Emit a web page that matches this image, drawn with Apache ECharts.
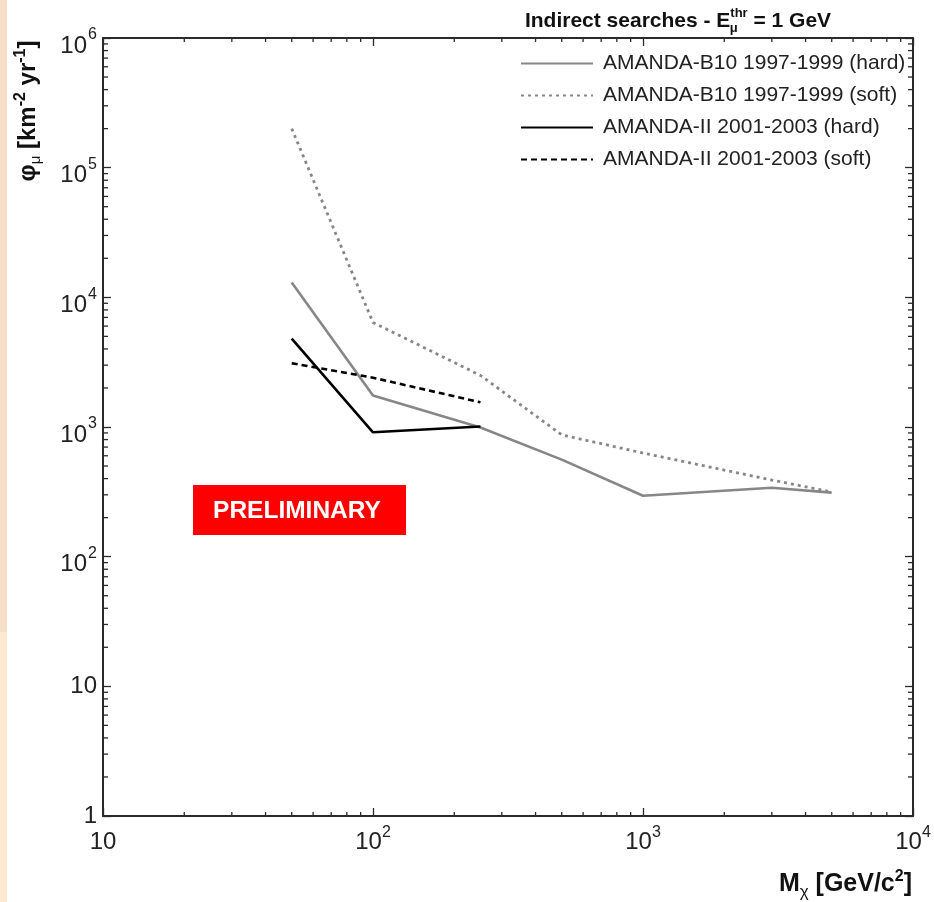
<!DOCTYPE html>
<html>
<head>
<meta charset="UTF-8">
<title>Indirect searches</title>
<script src="https://cdn.jsdelivr.net/npm/echarts@6/dist/echarts.min.js"></script>
<style>
  html, body { margin: 0; padding: 0; background: #fff; }
  #chart { width: 934px; height: 902px; }
</style>
</head>
<body>
<div id="chart"></div>
<script>
// data (mass in GeV/c^2, flux in km^-2 yr^-1)
const seriesNames = [
    'AMANDA-B10 1997-1999 (hard)',
    'AMANDA-B10 1997-1999 (soft)',
    'AMANDA-II 2001-2003 (hard)',
    'AMANDA-II 2001-2003 (soft)'
];
const massB10 = [50, 100, 250, 500, 1000, 3000, 5000];
const fluxB10Hard = [13000, 1750, 990, 560, 295, 340, 312];
const fluxB10Soft = [200000, 6400, 2500, 870, 630, 390, 315];
const massII = [50, 100, 250];
const fluxIIHard = [4800, 910, 1010];
const fluxIISoft = [3100, 2400, 1550];

const FONT = '"Liberation Sans", Arial, sans-serif';
const AXIS = '#2a2a2a';

function pairs(xs, ys) {
    return xs.map(function (x, i) { return [x, ys[i]]; });
}

// minor tick positions 2..9 of every decade
const xMinor = [];
[10, 100, 1000].forEach(function (d) {
    for (let m = 2; m <= 9; m++) xMinor.push([m * d, 1]);
});
const yMinor = [];
[1, 10, 100, 1000, 10000, 100000].forEach(function (d) {
    for (let m = 2; m <= 9; m++) yMinor.push([10, m * d]);
});

const chart = echarts.init(document.getElementById('chart'));

function xLabel(v) {
    const e = Math.round(Math.log10(v));
    if (e <= 1) return '{p|' + v + '}';
    return '{b|10}{s|' + e + '}';
}
// exponent on its own line above, so the "10" sits a little below the tick
function yLabel(v) {
    const e = Math.round(Math.log10(v));
    if (e <= 1) return '{p|' + v + '}';
    return '{s|' + e + '}\n{b|10}';
}

function tickLine(x1, y1, x2, y2) {
    return {
        type: 'line',
        shape: { x1: x1, y1: y1, x2: x2, y2: y2 },
        style: { stroke: AXIS, lineWidth: 1.3 }
    };
}

const baseAxis = {
    axisLine: { show: true, onZero: false, lineStyle: { color: AXIS, width: 2 } },
    axisTick: { show: true, inside: true, length: 8, lineStyle: { color: AXIS, width: 1.3 } },
    splitLine: { show: false },
    minorTick: { show: false }
};

const option = {
    backgroundColor: '#ffffff',
    animation: false,
    title: {
        text: '{a|Indirect searches - E}{s|thr}{u|μ}{a| = 1 GeV}',
        left: 673,
        top: 4,
        textAlign: 'center',
        textStyle: {
            rich: {
                a: { fontFamily: FONT, fontWeight: 'bold', fontSize: 21, color: '#111', lineHeight: 24, verticalAlign: 'middle' },
                s: { fontFamily: FONT, fontWeight: 'bold', fontSize: 13, color: '#111', lineHeight: 13, padding: [0, 0, 15, 0], verticalAlign: 'middle' },
                u: { fontFamily: FONT, fontSize: 13, color: '#111', lineHeight: 13, padding: [15, 10, 0, -18], verticalAlign: 'middle' }
            }
        }
    },
    legend: {
        data: seriesNames,
        orient: 'vertical',
        left: 515,
        top: 48,
        itemWidth: 72,
        itemHeight: 12,
        itemGap: 11,
        itemStyle: { opacity: 0 },
        textStyle: { fontFamily: FONT, fontSize: 21, color: '#222', padding: [0, 0, 0, 5] }
    },
    grid: { left: 103, right: 21, top: 38, bottom: 86, containLabel: false },
    xAxis: [
        Object.assign({}, baseAxis, {
            type: 'log', logBase: 10, min: 10, max: 10000, position: 'bottom',
            axisLabel: {
                margin: 14, formatter: xLabel,
                rich: {
                    b: { fontFamily: FONT, fontSize: 24, color: '#222', lineHeight: 24, verticalAlign: 'bottom' },
                    s: { fontFamily: FONT, fontSize: 16, color: '#222', lineHeight: 16, padding: [0, 0, 13, 0], verticalAlign: 'bottom' },
                    p: { fontFamily: FONT, fontSize: 24, color: '#222', lineHeight: 24, padding: [5, 0, 0, 0], verticalAlign: 'bottom' }
                }
            }
        }),
        Object.assign({}, baseAxis, {
            type: 'log', logBase: 10, min: 10, max: 10000, position: 'top',
            axisLabel: { show: false }
        })
    ],
    yAxis: [
        Object.assign({}, baseAxis, {
            type: 'log', logBase: 10, min: 1, max: 1000000, position: 'left',
            axisLabel: {
                margin: 6, formatter: yLabel, align: 'right',
                rich: {
                    s: { fontFamily: FONT, fontSize: 16, color: '#222', lineHeight: 16, align: 'right' },
                    b: { fontFamily: FONT, fontSize: 24, color: '#222', lineHeight: 6, padding: [0, 10, 0, 0], align: 'right' },
                    p: { fontFamily: FONT, fontSize: 24, color: '#222', lineHeight: 24 }
                }
            }
        }),
        Object.assign({}, baseAxis, {
            type: 'log', logBase: 10, min: 1, max: 1000000, position: 'right',
            axisLabel: { show: false }
        })
    ],
    series: [
        {
            name: seriesNames[0], type: 'line', symbol: 'none', data: pairs(massB10, fluxB10Hard),
            lineStyle: { color: '#878787', width: 2.6, type: 'solid' }, itemStyle: { color: '#878787' }, z: 3
        },
        {
            name: seriesNames[1], type: 'line', symbol: 'none', data: pairs(massB10, fluxB10Soft),
            lineStyle: { color: '#878787', width: 2.8, type: [3, 4] }, itemStyle: { color: '#878787' }, z: 3
        },
        {
            name: seriesNames[2], type: 'line', symbol: 'none', data: pairs(massII, fluxIIHard),
            lineStyle: { color: '#000', width: 2.6, type: 'solid' }, itemStyle: { color: '#000' }, z: 4
        },
        {
            name: seriesNames[3], type: 'line', symbol: 'none', data: pairs(massII, fluxIISoft),
            lineStyle: { color: '#000', width: 2.6, type: [6, 4] }, itemStyle: { color: '#000' }, z: 4
        },
        {
            name: 'xminor', type: 'custom', data: xMinor, silent: true, clip: false,
            renderItem: function (params, api) {
                const v = api.value(0);
                const b = api.coord([v, 1]);
                const t = api.coord([v, 1000000]);
                return { type: 'group', children: [
                    tickLine(b[0], b[1], b[0], b[1] - 4),
                    tickLine(t[0], t[1], t[0], t[1] + 4)
                ] };
            }
        },
        {
            name: 'yminor', type: 'custom', data: yMinor, silent: true, clip: false,
            renderItem: function (params, api) {
                const v = api.value(1);
                const l = api.coord([10, v]);
                const r = api.coord([10000, v]);
                return { type: 'group', children: [
                    tickLine(l[0], l[1], l[0] + 5, l[1]),
                    tickLine(r[0], r[1], r[0] - 5, r[1])
                ] };
            }
        }
    ],
    graphic: [
        { type: 'rect', left: 0, top: 0, shape: { width: 7, height: 632 }, style: { fill: '#f6dfc4' }, silent: true },
        { type: 'rect', left: 0, top: 632, shape: { width: 7, height: 270 }, style: { fill: '#fce9cf' }, silent: true },
        {
            type: 'text', x: 28, y: 111, rotation: Math.PI / 2, silent: true,
            style: {
                text: '{a|φ}{b|μ}{a| [km}{c|-2}{a| yr}{c|-1}{a|]}',
                align: 'center', verticalAlign: 'middle',
                rich: {
                    a: { fontFamily: FONT, fontWeight: 'bold', fontSize: 24, fill: '#111', lineHeight: 28, verticalAlign: 'middle' },
                    b: { fontFamily: FONT, fontSize: 15, fill: '#111', lineHeight: 15, padding: [16, 0, 0, 0], verticalAlign: 'middle' },
                    c: { fontFamily: FONT, fontWeight: 'bold', fontSize: 16, fill: '#111', lineHeight: 16, padding: [0, 0, 15, 0], verticalAlign: 'middle' }
                }
            }
        },
        {
            type: 'text', x: 912, y: 884, silent: true,
            style: {
                text: '{a|M}{b|χ}{a| [GeV/c}{c|2}{a|]}',
                align: 'right', verticalAlign: 'middle',
                rich: {
                    a: { fontFamily: FONT, fontWeight: 'bold', fontSize: 25, fill: '#111', lineHeight: 28, verticalAlign: 'middle' },
                    b: { fontFamily: FONT, fontSize: 17, fill: '#111', lineHeight: 17, padding: [16, 0, 0, 0], verticalAlign: 'middle' },
                    c: { fontFamily: FONT, fontWeight: 'bold', fontSize: 16, fill: '#111', lineHeight: 16, padding: [0, 0, 15, 0], verticalAlign: 'middle' }
                }
            }
        },
        { type: 'rect', left: 193, top: 485, shape: { width: 213, height: 50 }, style: { fill: '#ff0000' }, silent: true, z: 10 },
        {
            type: 'text', x: 297, y: 511, silent: true, z: 11,
            style: {
                text: 'PRELIMINARY', fill: '#ffffff', align: 'center', verticalAlign: 'middle',
                font: 'bold 24.5px "Liberation Sans", Arial, sans-serif'
            }
        }
    ]
};

chart.setOption(option);
</script>
</body>
</html>
